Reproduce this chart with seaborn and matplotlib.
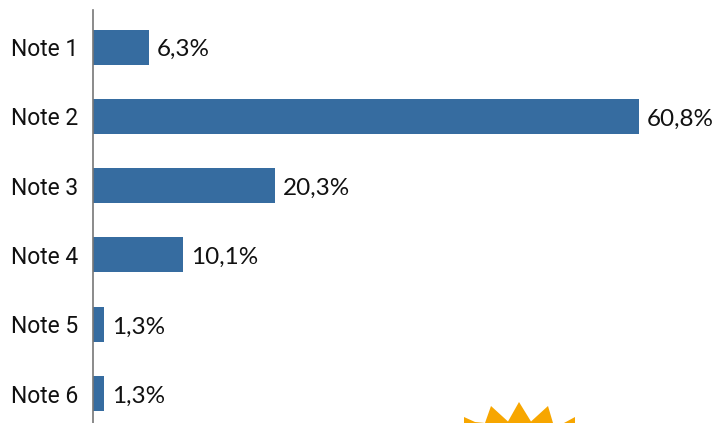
import matplotlib
matplotlib.use("Agg")
import matplotlib.pyplot as plt
from matplotlib.patches import Polygon
import pandas as pd
import seaborn as sns

# Werte aus dem Bild
notes = ["Note 1", "Note 2", "Note 3", "Note 4", "Note 5", "Note 6"]
shares = [6.3, 60.8, 20.3, 10.1, 1.3, 1.3]

W, H = 716, 423
sns.set_theme(style="white")
plt.rcParams["font.family"] = ["Lato", "DejaVu Sans"]

df = pd.DataFrame({"note": notes, "share": shares})

fig = plt.figure(figsize=(W / 100, H / 100), dpi=100)
ax = fig.add_axes([92.5 / W, 0, 1 - 92.5 / W, 413 / H])

sns.barplot(data=df, y="note", x="share", color="#366ca0", saturation=1,
            width=35 / 69.3, linewidth=0, ax=ax)
ax.set_xlim(0, (W - 92.5) / 8.99)
ax.set_ylim(5.425, -0.534)
ax.set_xlabel("")
ax.set_ylabel("")
ax.set_xticks([])

for s in ["top", "right", "bottom"]:
    ax.spines[s].set_visible(False)
ax.spines["left"].set_color("#777777")
ax.spines["left"].set_linewidth(1.2)
ax.tick_params(axis="y", length=0, pad=10.5, labelsize=16.5, labelcolor="#111111")
for lab in ax.get_yticklabels():
    lab.set_family("Roboto")

for bars in ax.containers:
    labels = [f"{v:.1f}%".replace(".", ",") for v in bars.datavalues]
    texts = ax.bar_label(bars, labels=labels, padding=5.5, fontsize=17.5, color="#111111")
    # etwas tiefer setzen
    for t in texts:
        t.xyann = (t.xyann[0], -2)

# Sonne am unteren Rand, abgeschnitten
sun_x = [464, 475, 485, 491, 508, 519, 531, 548, 553, 564, 575, 575, 464]
sun_y = [417, 422, 423, 406, 421.5, 402, 421.5, 406, 423, 423, 417, 424, 424]
sun = Polygon([(x, H - y) for x, y in zip(sun_x, sun_y)], closed=True,
              facecolor="#f7a600", edgecolor="none", transform=None)
fig.add_artist(sun)

fig.savefig("out.png", dpi=100)
